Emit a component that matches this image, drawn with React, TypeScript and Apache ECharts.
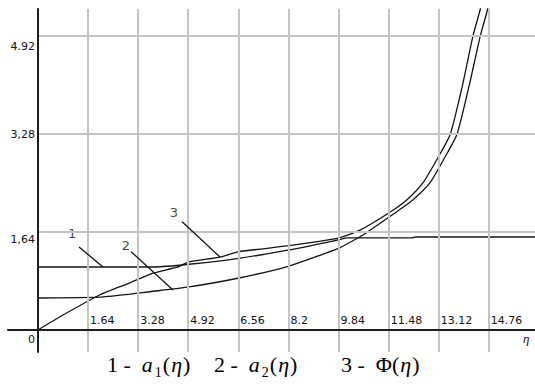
import React, { useEffect, useRef } from "react";
import * as echarts from "echarts";

// Tick values and labels
const xTicks = [1.64, 3.28, 4.92, 6.56, 8.2, 9.84, 11.48, 13.12, 14.76];
const xTickLabels = ["1.64", "3.28", "4.92", "6.56", "8.2", "9.84", "11.48", "13.12", "14.76"];
const yTicks = [0, 1.64, 3.28, 4.92];
const yTickLabels = ["0", "1,64", "3,28", "4.92"];
const yGridTicks = [1.64, 3.28, 4.92];

// Curve 1: a1(eta)
const a1Eta = [0, 3.83, 4.94, 6.58, 8.22, 9.85, 10.11, 12.24, 12.37, 16.4];
const a1Val = [1.054, 1.054, 1.1, 1.2, 1.34, 1.51, 1.54, 1.54, 1.556, 1.556];

// Curve 2: a2(eta)
const a2Eta = [0, 2.03, 3.01, 3.67, 4.94, 6.58, 8.22, 9.85, 10.54, 10.87, 11.72, 12.28, 12.83, 13.32, 13.72, 14.12, 14.48, 14.72, 14.88];
const a2Val = [0.535, 0.55, 0.6, 0.64, 0.72, 0.87, 1.07, 1.37, 1.56, 1.67, 1.97, 2.18, 2.46, 2.89, 3.28, 4.1, 4.92, 5.37, 5.8];

// Curve 3: Phi(eta)
const phiEta = [0, 0.82, 2.03, 3.01, 3.77, 4.55, 4.94, 5.96, 6.58, 8.22, 9.85, 10.54, 11.52, 12.08, 12.6, 13.1, 13.5, 13.9, 14.24, 14.48, 14.64];
const phiVal = [0, 0.25, 0.59, 0.79, 0.95, 1.05, 1.14, 1.22, 1.31, 1.41, 1.54, 1.67, 1.97, 2.18, 2.46, 2.89, 3.28, 4.1, 4.92, 5.37, 5.8];

// Annotation labels with leader lines
const annLabels = ["1", "2", "3"];
const annTextAt = [[1.12, 1.62], [2.88, 1.41], [4.45, 1.97]];
const annFrom = [[1.345, 1.39], [3.05, 1.31], [4.72, 1.81]];
const annTo = [[2.13, 1.054], [4.42, 0.67], [5.96, 1.22]];

const X_MIN = -0.98;
const X_MAX = 16.27;
const Y_MIN = -0.368;
const Y_MAX = 5.37;

const zip = (xs: number[], ys: number[]) => xs.map((x, i) => [x, ys[i]]);

const yLabelPad = [18, 16, 2, 22];

export default function App() {
  const ref = useRef<HTMLDivElement>(null);

  useEffect(() => {
    if (!ref.current) return;
    const chart = echarts.init(ref.current, null, { renderer: "svg" });

    const gridLines: any[] = [
      ...xTicks.map((t) => [{ coord: [t, Y_MIN] }, { coord: [t, Y_MAX] }]),
      ...yGridTicks.map((t) => [{ coord: [0, t] }, { coord: [X_MAX, t] }]),
    ];
    const leaders: any[] = annFrom.map((f, i) => [{ coord: f }, { coord: annTo[i] }]);

    const curveStyle = { color: "#141414", width: 1.3 };
    const serif = "'Liberation Serif', 'DejaVu Serif', serif";
    const base = { fontFamily: serif, fontSize: 22, color: "#111", verticalAlign: "top" };
    const legendRich = {
      n: { ...base },
      a: { ...base, fontStyle: "italic", padding: [0, 2, 0, 0] },
      e: { ...base, fontStyle: "italic", padding: [0, 1, 0, 1] },
      s: { ...base, fontSize: 14, padding: [12, 1, 0, 0] },
    };

    const richY: any = {};
    yTickLabels.forEach((_, i) => {
      richY["t" + i] = {
        fontFamily: "'DejaVu Sans', sans-serif",
        fontSize: 11,
        color: "#111",
        padding: [yLabelPad[i], 0, 0, 0],
      };
    });

    chart.setOption({
      animation: false,
      grid: { left: 8, right: 0, top: 9, bottom: 32, containLabel: false, outerBoundsMode: "none" },
      xAxis: {
        type: "value",
        min: X_MIN,
        max: X_MAX,
        z: 5,
        axisLine: { onZero: true, lineStyle: { color: "#1e1e1e", width: 2 } },
        axisTick: { show: false },
        splitLine: { show: false },
        axisLabel: {
          inside: true,
          customValues: xTicks,
          margin: 26,
          align: "left",
          padding: [0, 0, 0, 2],
          fontFamily: "'DejaVu Sans', sans-serif",
          fontSize: 11,
          color: "#111",
          formatter: (v: number) => {
            const i = xTicks.findIndex((t) => Math.abs(t - v) < 1e-6);
            return i >= 0 ? xTickLabels[i] : "";
          },
        },
      },
      yAxis: {
        type: "value",
        min: Y_MIN,
        max: Y_MAX,
        z: 5,
        axisLine: { onZero: true, lineStyle: { color: "#1e1e1e", width: 2 } },
        axisTick: { show: false },
        splitLine: { show: false },
        axisLabel: {
          inside: true,
          align: "right",
          customValues: yTicks,
          margin: 27,
          rich: richY,
          formatter: (v: number) => {
            const i = yTicks.findIndex((t) => Math.abs(t - v) < 1e-6);
            return i >= 0 ? "{t" + i + "|" + yTickLabels[i] + "}" : "";
          },
        },
      },
      series: [
        {
          name: "grid",
          type: "line",
          data: [],
          z: 1,
          silent: true,
          markLine: {
            silent: true,
            symbol: ["none", "none"],
            label: { show: false },
            lineStyle: { color: "#c4c4c4", width: 2, type: "solid" },
            data: gridLines,
          },
        },
        {
          name: "a1",
          type: "line",
          data: zip(a1Eta, a1Val),
          symbol: "none",
          smooth: 0.2,
          lineStyle: curveStyle,
          z: 3,
        },
        {
          name: "a2",
          type: "line",
          data: zip(a2Eta, a2Val),
          symbol: "none",
          smooth: 0.2,
          lineStyle: curveStyle,
          z: 3,
        },
        {
          name: "phi",
          type: "line",
          data: zip(phiEta, phiVal),
          symbol: "none",
          smooth: 0.2,
          lineStyle: curveStyle,
          z: 3,
        },
        {
          name: "leaders",
          type: "line",
          data: [],
          z: 4,
          silent: true,
          markLine: {
            silent: true,
            symbol: ["none", "none"],
            label: { show: false },
            lineStyle: { color: "#141414", width: 1.3, type: "solid" },
            data: leaders,
          },
        },
        {
          name: "labels",
          type: "scatter",
          data: annTextAt,
          symbolSize: 1,
          itemStyle: { color: "rgba(0,0,0,0)" },
          z: 4,
          label: {
            show: true,
            position: "inside",
            fontFamily: "'DejaVu Sans', sans-serif",
            fontSize: 13,
            color: "#111",
            formatter: (p: any) => annLabels[p.dataIndex],
          },
        },
      ],
      graphic: [
        {
          type: "text",
          x: 523,
          y: 332,
          style: { text: "η", font: "italic 13px 'Liberation Serif', serif", fill: "#111" },
        },
        {
          type: "text",
          x: 107,
          y: 353,
          style: { text: "{n|1 -  }{a|a}{s|1}{n|(}{e|η}{n|)}", rich: legendRich },
        },
        {
          type: "text",
          x: 214,
          y: 353,
          style: { text: "{n|2 -  }{a|a}{s|2}{n|(}{e|η}{n|)}", rich: legendRich },
        },
        {
          type: "text",
          x: 341,
          y: 353,
          style: { text: "{n|3 -  }{n|Φ}{n|(}{e|η}{n|)}", rich: legendRich },
        },
      ],
    });

    return () => chart.dispose();
  }, []);

  return (
    <div
      ref={ref}
      style={{ position: "absolute", left: 0, top: 0, width: 535, height: 384, background: "#fff" }}
    />
  );
}
